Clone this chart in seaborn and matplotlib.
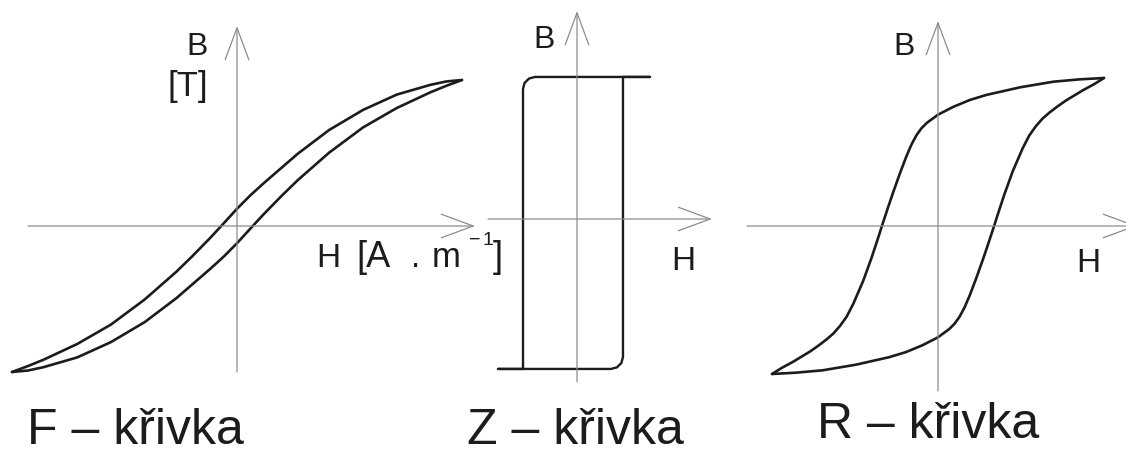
import matplotlib
matplotlib.use("Agg")
import matplotlib.pyplot as plt
import pandas as pd
import seaborn as sns

# ---- hysteresis loops, H and B normalised to the saturation point ----
# F-curve (soft magnetic material): descending and ascending branches
f_down_h = [1.0, 0.93, 0.86, 0.71, 0.56, 0.41, 0.27, 0.12, 0.06, 0.0, -0.07, -0.12,
            -0.2, -0.27, -0.41, -0.56, -0.71, -0.86, -0.93, -1.0]
f_down_b = [1.0, 0.99, 0.967, 0.90, 0.795, 0.658, 0.495, 0.295, 0.211, 0.118, 0.0, -0.083,
            -0.209, -0.314, -0.503, -0.675, -0.808, -0.916, -0.96, -1.0]
f_up_h = [-1.0, -0.93, -0.86, -0.71, -0.56, -0.41, -0.27, -0.12, -0.06, 0.0, 0.07, 0.12,
          0.2, 0.27, 0.41, 0.56, 0.71, 0.86, 0.93, 1.0]
f_up_b = [-1.0, -0.99, -0.967, -0.90, -0.795, -0.658, -0.495, -0.295, -0.211, -0.118, 0.0, 0.083,
          0.209, 0.314, 0.503, 0.675, 0.808, 0.916, 0.96, 1.0]

# Z-curve (rectangular loop)
z_down_h = [0.973, -0.56, -0.64, -0.699, -0.72, -0.72, -1.053]
z_down_b = [0.973, 0.973, 0.962, 0.932, 0.890, -1.027, -1.027]
z_up_h = [-1.053, 0.453, 0.533, 0.592, 0.613, 0.613, 0.973]
z_up_b = [-1.027, -1.027, -1.016, -0.986, -0.945, 0.973, 0.973]

# R-curve (hard magnetic material, wide loop)
r_down_h = [1.0, 0.855, 0.695, 0.494, 0.293, 0.193, 0.092, 0.0, -0.068, -0.10,
            -0.13, -0.16, -0.19, -0.23, -0.27, -0.30, -0.335, -0.36, -0.40, -0.45,
            -0.51, -0.55, -0.59, -0.63, -0.671, -0.72, -0.771, -0.871, -0.94, -1.0]
r_down_b = [1.0, 0.991, 0.975, 0.937, 0.886, 0.852, 0.805, 0.752, 0.696, 0.660,
            0.613, 0.550, 0.472, 0.354, 0.228, 0.129, 0.01, -0.078, -0.214, -0.369,
            -0.525, -0.612, -0.675, -0.726, -0.766, -0.808, -0.848, -0.916, -0.958, -1.0]
r_up_h = [-1.0, -0.855, -0.695, -0.494, -0.293, -0.193, -0.092, 0.0, 0.068, 0.10,
          0.13, 0.16, 0.19, 0.23, 0.27, 0.30, 0.335, 0.36, 0.40, 0.45,
          0.51, 0.55, 0.59, 0.63, 0.671, 0.72, 0.771, 0.871, 0.94, 1.0]
r_up_b = [-1.0, -0.991, -0.975, -0.937, -0.886, -0.852, -0.805, -0.752, -0.696, -0.660,
          -0.613, -0.550, -0.472, -0.354, -0.228, -0.129, -0.01, 0.078, 0.214, 0.369,
          0.525, 0.612, 0.675, 0.726, 0.766, 0.808, 0.848, 0.916, 0.958, 1.0]

titles = ["F \u2013 k\u0159ivka", "Z \u2013 k\u0159ivka", "R \u2013 k\u0159ivka"]

sns.set_theme(style="white")
plt.rcParams["font.family"] = ["Liberation Sans", "DejaVu Sans"]

W, H = 1126, 456
fig = plt.figure(figsize=(W / 100, H / 100), dpi=100)
fig.patch.set_facecolor("white")

INK = "#1c1c1c"
AXIS = "#8c8c8c"


def add_panel(box, origin, scale):
    """box = (left, top, right, bottom) px; origin = pixel of H=0, B=0; scale = px per unit."""
    l, t, r, b = box
    ox, oy = origin
    sx, sy = scale
    ax = fig.add_axes([l / W, 1 - b / H, (r - l) / W, (b - t) / H])
    ax.set_xlim((l - ox) / sx, (r - ox) / sx)
    ax.set_ylim((oy - b) / sy, (oy - t) / sy)
    ax.set_axis_off()
    # coordinate axes with open arrow heads
    x0, x1 = ax.get_xlim()
    y0, y1 = ax.get_ylim()
    style = "->,head_length=2.3,head_width=0.85"
    for start, end in (((x0, 0), (x1, 0)), ((0, y0), (0, y1))):
        ax.annotate("", xy=end, xytext=start, annotation_clip=False,
                    arrowprops=dict(arrowstyle=style, color=AXIS, lw=0.9,
                                    shrinkA=0, shrinkB=0, mutation_scale=10))
    return ax


def draw_loop(ax, down_h, down_b, up_h, up_b, lw=1.9):
    df = pd.concat([
        pd.DataFrame({"H": down_h, "B": down_b, "branch": "down"}),
        pd.DataFrame({"H": up_h, "B": up_b, "branch": "up"}),
    ], ignore_index=True)
    sns.lineplot(data=df, x="H", y="B", units="branch", estimator=None, sort=False,
                 color=INK, lw=lw, ax=ax, legend=False)
    for line in ax.lines:
        line.set_clip_on(False)
        line.set_solid_joinstyle("round")
        line.set_solid_capstyle("round")
    ax.set_axis_off()


ax_f = add_panel((28, 27, 475, 373), (237, 227), (225, 146))
draw_loop(ax_f, f_down_h, f_down_b, f_up_h, f_up_b)

ax_z = add_panel((488, 12, 712, 383), (577, 220), (75, 146))
draw_loop(ax_z, z_down_h, z_down_b, z_up_h, z_up_b, lw=1.7)

ax_r = add_panel((747, 22, 1137, 392), (938, 227), (166, 148))
draw_loop(ax_r, r_down_h, r_down_b, r_up_h, r_up_b)


def label(x, y, s, size):
    fig.text(x / W, 1 - y / H, s, ha="left", va="baseline", fontsize=size, color=INK)


# axis labels
label(186, 55, "B", 23)
label(167, 96, "[T]", 25)
# H [A . m^-1], set piece by piece for its wide letter spacing
label(316, 267, "H", 24)
label(356, 267, "[A", 26)
label(411, 267, ".", 24)
label(432, 267, "m", 25)
label(469, 245, "\u2212", 14)
label(482, 245, "1", 14)
label(493, 267, "]", 26)

label(533, 48, "B", 23)
label(671, 270, "H", 24)
label(893, 55, "B", 23)
label(1076, 272, "H", 24)

# curve names
label(27, 444, titles[0], 36)
label(467, 444, titles[1], 36)
label(817, 438, titles[2], 36)

fig.savefig("out.png", dpi=100, facecolor="white")
